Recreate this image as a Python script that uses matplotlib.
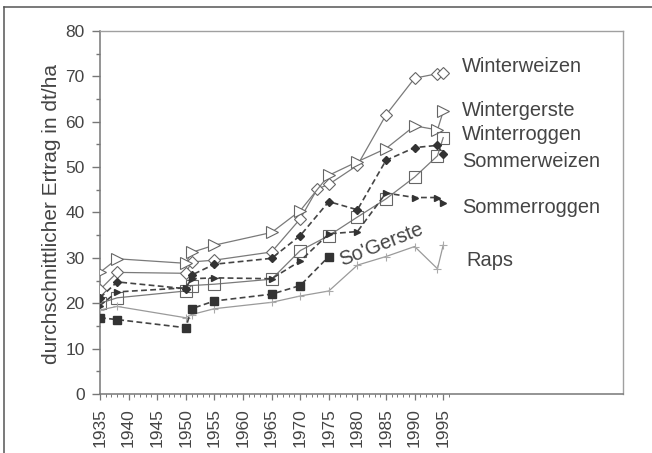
import matplotlib
matplotlib.use("Agg")
import matplotlib.pyplot as plt
from matplotlib.lines import Line2D
from matplotlib.ticker import MultipleLocator

plt.rcParams['font.family'] = ['Liberation Sans', 'DejaVu Sans']

# ---- data (dt/ha) ----
years = [1935, 1938, 1950, 1951, 1955, 1965, 1970, 1975, 1980, 1985, 1990, 1994, 1995]
years_ww = [1935, 1938, 1950, 1951, 1955, 1965, 1970, 1973, 1975, 1980, 1985, 1990, 1994, 1995]
winterweizen = [23.0, 26.8, 26.6, 29.1, 29.5, 31.3, 38.6, 45.2, 46.2, 50.4, 61.5, 69.6, 70.6, 70.7]
wintergerste = [26.8, 29.8, 28.8, 31.2, 32.8, 35.6, 40.4, 48.2, 51.2, 54.1, 59.1, 58.2, 62.3]
winterroggen = [20.0, 21.2, 22.7, 23.9, 24.2, 25.3, 31.6, 34.9, 39.0, 43.0, 47.8, 52.5, 56.5]
sommerweizen = [21.2, 24.7, 23.2, 26.2, 28.6, 29.9, 34.9, 42.4, 40.6, 51.5, 54.3, 54.8, 52.8]
sommerroggen = [19.5, 22.5, 23.4, 25.4, 25.6, 25.4, 29.3, 35.3, 35.8, 44.3, 43.3, 43.3, 42.1]
years_sg = [1935, 1938, 1950, 1951, 1955, 1965, 1970, 1975]
sommergerste = [16.8, 16.4, 14.6, 18.8, 20.5, 22.0, 23.9, 30.3]
raps = [18.5, 19.3, 16.8, 17.5, 18.8, 20.2, 21.6, 22.7, 28.4, 30.3, 32.5, 27.6, 32.8]

series_names = ["Winterweizen", "Wintergerste", "Winterroggen", "Sommerweizen",
                "Sommerroggen", "So'Gerste", "Raps"]
ylabel = "durchschnittlicher Ertrag in dt/ha"

W, H = 652, 453
fig = plt.figure(figsize=(W / 100, H / 100), dpi=100)
fig.patch.set_facecolor('white')

# outer frame (left & top)
fig.add_artist(Line2D([4 / W, 4 / W], [0, 1 - 6.5 / H], color='#555555', lw=1.1,
                      transform=fig.transFigure))
fig.add_artist(Line2D([4 / W, 1], [1 - 6.5 / H, 1 - 6.5 / H], color='#555555', lw=1.1,
                      transform=fig.transFigure))

ax_l, ax_r, ax_t, ax_b = 100, 623, 31, 394
ax = fig.add_axes([ax_l / W, 1 - ax_b / H, (ax_r - ax_l) / W, (ax_b - ax_t) / H])

px_per_year = 5.72
x0 = 1935
x1 = x0 + (ax_r - ax_l) / px_per_year
ax.set_xlim(x0, x1)
ax.set_ylim(0, 80)

line_col = '#7a7a7a'
dark = '#333333'
solid_lw = 0.9
dash_lw = 1.2
dashes = (3.5, 2.0)

ax.plot(years_ww, winterweizen, color=line_col, lw=solid_lw, marker='D', ms=6.5,
        mfc='white', mec='#666666', mew=0.8, zorder=3)
ax.plot(years, wintergerste, color=line_col, lw=solid_lw, marker='>', ms=8,
        mfc='white', mec='#666666', mew=0.8, zorder=3)
ax.plot(years, winterroggen, color=line_col, lw=solid_lw, marker='s', ms=8,
        mfc='none', mec='#666666', mew=0.8, zorder=3)
ax.plot(years, sommerweizen, color='#444444', lw=dash_lw, ls=(0, dashes), marker='D',
        ms=3.8, mfc=dark, mec=dark, zorder=4)
ax.plot(years, sommerroggen, color='#444444', lw=dash_lw, ls=(0, dashes), marker='>',
        ms=5, mfc=dark, mec=dark, zorder=4)
ax.plot(years_sg, sommergerste, color='#444444', lw=dash_lw, ls=(0, dashes), marker='s',
        ms=6, mfc=dark, mec=dark, zorder=4)
ax.plot(years, raps, color='#9a9a9a', lw=solid_lw, marker='+', ms=6,
        mec='#aaaaaa', mew=0.8, zorder=3)

txt_col = '#444444'
fs = 14.4
lab_x = 1935 + (461.7 - ax_l) / px_per_year
def ypx(p):
    return (ax_b - p) / ((ax_b - ax_t) / 80)

ax.text(lab_x, ypx(66.7), series_names[0], fontsize=fs, color=txt_col, va='center', ha='left')
ax.text(lab_x, ypx(111), series_names[1], fontsize=fs, color=txt_col, va='center', ha='left')
ax.text(lab_x, ypx(135), series_names[2], fontsize=fs, color=txt_col, va='center', ha='left')
ax.text(lab_x, ypx(162), series_names[3], fontsize=fs, color=txt_col, va='center', ha='left')
ax.text(lab_x, ypx(207.3), series_names[4], fontsize=fs, color=txt_col, va='center', ha='left')
ax.text(1935 + (466.7 - ax_l) / px_per_year, ypx(260), series_names[6], fontsize=fs,
        color=txt_col, va='center', ha='left')
ax.text(1935 + (381 - ax_l) / px_per_year, ypx(245), series_names[5], fontsize=fs,
        color=txt_col, va='center', ha='center', rotation=21.5, rotation_mode='anchor')

# axes styling
for s in ['top', 'right']:
    ax.spines[s].set_color('#a0a0a0')
    ax.spines[s].set_linewidth(1.0)
for s in ['left', 'bottom']:
    ax.spines[s].set_color('#777777')
    ax.spines[s].set_linewidth(1.1)

ax.set_xticks(list(range(1935, 1996, 5)))
ax.set_xticklabels([str(y) for y in range(1935, 1996, 5)], rotation=90)
ax.set_xticks(list(range(1935, 1997)), minor=True)
ax.yaxis.set_major_locator(MultipleLocator(10))
ax.yaxis.set_minor_locator(MultipleLocator(5))
ax.tick_params(axis='y', which='major', length=6, width=1, color='#777777',
               labelsize=12.5, labelcolor=txt_col, pad=5, direction='out')
ax.tick_params(axis='y', which='minor', length=3, width=1, color='#777777', direction='out')
ax.tick_params(axis='x', which='major', length=4, width=0.9, color='#777777',
               labelsize=12.5, labelcolor=txt_col, pad=6, direction='out')
ax.tick_params(axis='x', which='minor', length=2.5, width=0.7, color='#777777', direction='out')
ax.tick_params(top=False, right=False)

fig.text(52 / W, 1 - 214 / H, ylabel, rotation=90, fontsize=15, color=txt_col,
         ha='center', va='center')

fig.savefig('out.png', dpi=100, facecolor='white')
